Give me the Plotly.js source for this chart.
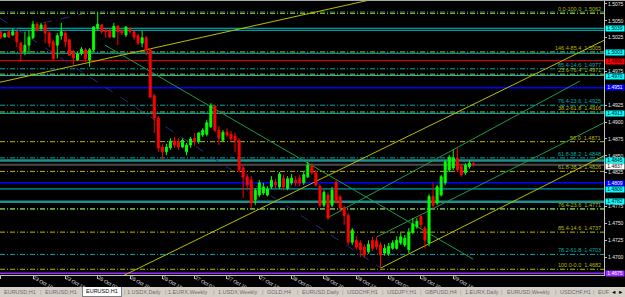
<!DOCTYPE html>
<html><head><meta charset="utf-8">
<script src="https://cdn.plot.ly/plotly-3.0.1.min.js"></script>
<style>
html,body{margin:0;padding:0;background:#000;overflow:hidden;width:625px;height:297px;}
#topline{position:absolute;left:0;top:0;width:625px;height:1px;background:#a8a8a8;}
#chart{position:absolute;left:0;top:0;width:625px;height:297px;}
#tabs{position:absolute;left:0;top:287px;width:625px;height:10px;background:#d4d0c8;font-family:"Liberation Sans",Arial,sans-serif;font-size:5.5px;color:#6a6a6a;}
#tabs span{position:absolute;top:2px;white-space:nowrap;line-height:6px;}
#tabs .sel{top:0px;height:10px;background:#fff;border:1px solid #808080;border-top:none;color:#000;line-height:9px;padding:0 3px;box-sizing:border-box;}
</style></head>
<body>
<div id="chart"></div>
<div id="topline"></div>
<div id="tabs"></div>
<script>
// ---- candle data (EURUSD H1) ----
const openP = [1.5034,1.5026,1.5034,1.5029,1.5034,1.5017,1.5004,1.5014,1.5025,1.5045,
1.5039,1.5044,1.5032,1.5019,1.5014,1.5028,1.5032,1.5022,1.5002,1.4992,
1.5002,1.5007,1.4992,1.5007,1.5039,1.5044,1.5036,1.5035,1.5026,1.5042,
1.5035,1.5029,1.5038,1.5034,1.5028,1.5017,1.5025,1.5007,1.4939,1.4906,
1.4863,1.4856,1.4862,1.4872,1.4871,1.4863,1.4856,1.4866,1.4876,1.4871,
1.4881,1.4882,1.4893,1.4924,1.4888,1.4873,1.4885,1.4882,1.4879,1.4873,
1.4832,1.4819,1.4814,1.4785,1.4792,1.4795,1.4792,1.4804,1.4811,1.4804,
1.4817,1.4802,1.4810,1.4814,1.4817,1.4810,1.4819,1.4835,1.4825,1.4805,
1.4777,1.4792,1.4777,1.4811,1.4789,1.4773,1.4762,1.4722,1.4725,1.4721,
1.4715,1.4708,1.4725,1.4724,1.4718,1.4706,1.4705,1.4713,1.4713,1.4721,
1.4718,1.4711,1.4737,1.4745,1.4760,1.4743,1.4721,1.4790,1.4780,1.4792,
1.4810,1.4829,1.4832,1.4847,1.4834,1.4825,1.4834,1.4839];
const highP = [1.5035,1.5032,1.5037,1.5038,1.5035,1.5019,1.5034,1.5036,1.5050,1.5048,
1.5047,1.5047,1.5036,1.5022,1.5032,1.5047,1.5036,1.5023,1.5007,1.5004,
1.5011,1.5010,1.5010,1.5042,1.5063,1.5045,1.5039,1.5038,1.5047,1.5044,
1.5038,1.5042,1.5041,1.5035,1.5031,1.5035,1.5028,1.5010,1.4942,1.4909,
1.4868,1.4868,1.4876,1.4878,1.4876,1.4876,1.4869,1.4878,1.4884,1.4885,
1.4891,1.4903,1.4928,1.4925,1.4894,1.4888,1.4891,1.4887,1.4884,1.4876,
1.4836,1.4823,1.4820,1.4802,1.4814,1.4810,1.4805,1.4820,1.4816,1.4826,
1.4822,1.4820,1.4823,1.4820,1.4822,1.4826,1.4841,1.4839,1.4829,1.4808,
1.4799,1.4796,1.4804,1.4814,1.4792,1.4776,1.4765,1.4743,1.4731,1.4725,
1.4719,1.4725,1.4730,1.4730,1.4722,1.4719,1.4721,1.4725,1.4731,1.4736,
1.4733,1.4743,1.4758,1.4758,1.4762,1.4746,1.4793,1.4810,1.4807,1.4822,
1.4844,1.4851,1.4859,1.4862,1.4839,1.4839,1.4844,1.4842];
const lowP = [1.5023,1.5026,1.5025,1.5028,1.5011,1.4989,1.4999,1.5002,1.5023,1.5034,
1.5036,1.5017,1.5011,1.4992,1.4994,1.5022,1.5011,1.4998,1.4985,1.4991,
1.4999,1.4989,1.4982,1.5004,1.5036,1.5031,1.5025,1.5025,1.5025,1.5014,
1.5029,1.5026,1.5031,1.5022,1.5014,1.5011,1.4999,1.4936,1.4884,1.4856,
1.4844,1.4851,1.4859,1.4862,1.4859,1.4862,1.4851,1.4862,1.4865,1.4868,
1.4878,1.4879,1.4891,1.4885,1.4866,1.4871,1.4878,1.4871,1.4856,1.4826,
1.4788,1.4799,1.4773,1.4777,1.4789,1.4792,1.4790,1.4801,1.4802,1.4801,
1.4799,1.4799,1.4807,1.4805,1.4805,1.4807,1.4817,1.4822,1.4804,1.4774,
1.4774,1.4755,1.4774,1.4779,1.4767,1.4748,1.4718,1.4718,1.4711,1.4700,
1.4699,1.4705,1.4709,1.4711,1.4684,1.4702,1.4702,1.4711,1.4711,1.4718,
1.4715,1.4706,1.4734,1.4742,1.4743,1.4713,1.4716,1.4773,1.4777,1.4790,
1.4807,1.4826,1.4829,1.4826,1.4819,1.4822,1.4831,1.4834];
const closeP = [1.5025,1.5031,1.5026,1.5034,1.5019,1.5004,1.5014,1.5026,1.5045,1.5036,
1.5044,1.5032,1.5017,1.4994,1.5028,1.5034,1.5019,1.4999,1.4995,1.5001,
1.5008,1.4994,1.5007,1.5041,1.5045,1.5034,1.5034,1.5026,1.5042,1.5034,
1.5032,1.5041,1.5034,1.5026,1.5017,1.5025,1.5007,1.4937,1.4906,1.4862,
1.4856,1.4863,1.4872,1.4866,1.4863,1.4873,1.4866,1.4875,1.4871,1.4884,
1.4888,1.4899,1.4924,1.4888,1.4876,1.4885,1.4881,1.4875,1.4873,1.4829,
1.4819,1.4807,1.4780,1.4799,1.4810,1.4804,1.4801,1.4814,1.4807,1.4823,
1.4804,1.4816,1.4817,1.4810,1.4810,1.4822,1.4836,1.4825,1.4807,1.4777,
1.4796,1.4758,1.4799,1.4782,1.4773,1.4762,1.4722,1.4740,1.4715,1.4711,
1.4703,1.4719,1.4713,1.4715,1.4703,1.4713,1.4716,1.4721,1.4725,1.4730,
1.4728,1.4737,1.4749,1.4753,1.4748,1.4725,1.4790,1.4777,1.4804,1.4819,
1.4841,1.4848,1.4847,1.4829,1.4822,1.4836,1.4839,1.4837];

// time axis (bar index -> label)
const tickIdx = [0,8,16,24,32,40,48,56,64,72,80,88,96,104,112];
const tickLabels = ['23 Oct 2009','23 Oct 10:00','23 Oct 18:00','26 Oct 02:00','26 Oct 10:00','26 Oct 18:00','27 Oct 02:00','27 Oct 10:00','27 Oct 18:00','28 Oct 02:00','28 Oct 10:00','28 Oct 18:00','29 Oct 02:00','29 Oct 10:00','29 Oct 18:00'];
// price scale labels that are not hidden behind price boxes
const priceTicks = [1.5075,1.5050,1.5025,1.4975,1.4925,1.4900,1.4875,1.4850,1.4825,1.4775,1.4750,1.4725,1.4700];

// solid horizontal lines (price)
const hLinePrice = [1.5039,1.5036,1.5002,1.4991,1.4969,1.4951,1.4913,1.4843,1.4837,1.4810,1.4801,1.4782,1.4676];
const hLineKind  = ['cyan','cyan','cyan','red','cyan','blue','cyan','teal','bid','blue','cyan','teal','purple'];

// fibonacci dash-dot levels
const fibPrice = [1.5063,1.5061,1.5004,1.4979,1.4971,1.4925,1.4915,1.4871,1.4847,1.4827,1.4772,1.4771,1.4737,1.4704,1.4682];
const fibKind  = ['t','y','y','t','y','t','y','y','t','y','t','y','y','t','y'];
const fibLabel = ['','0.0-100.0  1.5062','146.4-85.4  1.5005','85.4-14.6  1.4977','23.6-76.4  1.4971','76.4-23.6  1.4925','38.2-61.8  1.4916','50.0  1.4871','61.8-38.2  1.4848','61.8-38.2  1.4826','','76.4-23.6  1.4771','85.4-14.6  1.4737','78.2-61.8  1.4703','100.0-0.0  1.4682'];

// trend lines: start bar, start price, end bar, end price
const tlBar0   = [-0.2, 29.5, 94.1, 25.8, -0.2, 10.5, 80.8, 93.1];
const tlPrice0 = [1.4959,1.4670,1.4684,1.5014,1.5054,1.5047,1.4758,1.4730];
const tlBar1   = [91.4, 149.6, 149.6, 116.9, 94.1, 20.1, 143.4, 149.6];
const tlPrice1 = [1.5081,1.5022,1.4851,1.4697,1.4684,1.5060,1.4961,1.4900];
const tlKind   = ['yellow','yellow','yellow','green','navy','navy','green','green'];

// price boxes on the right scale
const boxPrice = [1.5039,1.5003,1.4990,1.4970,1.4951,1.4913,1.4845,1.4837,1.4809,1.4800,1.4782,1.4675];
const boxKind  = ['cyan','cyan','red','cyan','blue','cyan','cyan','white','blue','cyan','cyan','purple'];

// terminal tabs
const tabNames = ['EURUSD,H1','EURUSD,H1','EURUSD,H1','1.USDX,Daily','1.EURX,Weekly','1.USDX,Weekly','GOLD,H4','EURUSD,Daily','USDCHF,H1','USDJPY,H1','GBPUSD,H4','1.EURX,Daily','EURUSD,Weekly','USDCHF,H1','EUF'];

// ---- styles ----
const lineStyle = {
  cyan:{color:'#00c4cc',width:1}, red:{color:'#ff0000',width:1}, blue:{color:'#0000ff',width:1.5},
  teal:{color:'#1f8f8f',width:2.5}, bid:{color:'#4a4a4a',width:2}, purple:{color:'#9a2cff',width:1.5}
};
const fibColor = {t:'#00aaaa', y:'#b8b800'};
const tlStyle = {yellow:{color:'#bcbc00',width:1}, green:{color:'#1a9a4a',width:1}, navy:{color:'#2a2a80',width:1,dash:'dash'}};
const boxStyle = {cyan:['#00ffff','#000'], red:['#ff0000','#000'], blue:['#0000ff','#fff'], white:['#ffffff','#000'], purple:['#9a2cff','#fff']};
const boxShift = [0,0,0,-2,0,0,-1,-1.5,0,0,0,0];
const tabX = [4,45,82,127,168,218,267,302,347,387,425,465,507,560,598];
const sepX = [40,124,165,213,262,297,342,382,420,460,501,555,593];

const xs = openP.map((_, i) => i);
const trace = {
  type:'candlestick', x:xs, open:openP, high:highP, low:lowP, close:closeP,
  increasing:{line:{color:'#00ff00',width:1}, fillcolor:'#00ff00'},
  decreasing:{line:{color:'#ff0000',width:1}, fillcolor:'#ff0000'},
  whiskerwidth:0, hoverinfo:'skip'
};

const shapes = [];
hLinePrice.forEach((p,i)=>{
  const s = lineStyle[hLineKind[i]];
  shapes.push({type:'line', xref:'paper', x0:0, x1:1, yref:'y', y0:p, y1:p, layer:'below', line:{color:s.color, width:s.width}});
});
fibPrice.forEach((p,i)=>{
  shapes.push({type:'line', xref:'paper', x0:0, x1:1, yref:'y', y0:p, y1:p, layer:'below', line:{color:fibColor[fibKind[i]], width:1, dash:'5px,2px,1px,2px'}});
});
tlBar0.forEach((b,i)=>{
  const s = tlStyle[tlKind[i]];
  shapes.push({type:'line', xref:'x', yref:'y', x0:b, y0:tlPrice0[i], x1:tlBar1[i], y1:tlPrice1[i], layer:'below', line:{color:s.color, width:s.width, dash:s.dash||'solid'}});
});

const annotations = [];
fibLabel.forEach((t,i)=>{
  if(!t) return;
  annotations.push({xref:'paper', x:1, xanchor:'right', xshift:-1, yref:'y', y:fibPrice[i], yanchor:'bottom', yshift:-1,
    text:t.replace(/  /g,'\u00a0\u00a0'), showarrow:false, font:{size:5.5, color:fibColor[fibKind[i]]}});
});
boxPrice.forEach((p,i)=>{
  const st = boxStyle[boxKind[i]];
  annotations.push({xref:'paper', x:1, xanchor:'left', xshift:1, yref:'y', y:p, yanchor:'middle', yshift:boxShift[i],
    text:p.toFixed(4), showarrow:false, bgcolor:st[0], width:18, height:4.5, borderpad:0, font:{size:5, color:st[1]}});
});

const layout = {
  width:625, height:297, margin:{l:0, r:21, t:1, b:22},
  paper_bgcolor:'#000', plot_bgcolor:'#000', showlegend:false,
  font:{family:'"Liberation Sans", Arial, sans-serif', size:5, color:'#e8e8e8'},
  xaxis:{range:[-0.17,149.3], tickmode:'array', tickvals:tickIdx, ticktext:tickLabels,
    ticks:'outside', ticklen:3, tickcolor:'#c0c0c0', ticklabelposition:'outside right', ticklabelstandoff:-3,
    tickfont:{size:5, color:'#e8e8e8'}, showline:true, linecolor:'#c0c0c0', linewidth:1,
    showgrid:false, zeroline:false, rangeslider:{visible:false}, fixedrange:true},
  yaxis:{side:'right', range:[1.46735,1.50794], tickmode:'array', tickvals:priceTicks, tickformat:'.4f',
    ticks:'outside', ticklen:2, tickcolor:'#c0c0c0', showline:true, linecolor:'#c0c0c0', linewidth:1,
    showgrid:false, zeroline:false, tickfont:{size:5, color:'#e8e8e8'}, fixedrange:true},
  shapes:shapes, annotations:annotations
};

Plotly.newPlot('chart', [trace], layout, {staticPlot:true, displayModeBar:false});

// tabs
const tabs = document.getElementById('tabs');
tabNames.forEach((n,i)=>{
  const s = document.createElement('span');
  s.textContent = n;
  if(i===2){ s.className='sel'; }
  s.style.left = tabX[i]+'px';
  tabs.appendChild(s);
});
sepX.forEach(x=>{
  const s = document.createElement('span');
  s.textContent = '|'; s.style.left = x+'px'; s.style.color='#909090';
  tabs.appendChild(s);
});
const arr = document.createElement('span');
arr.textContent = '\u25C4 \u25BA'; arr.style.left='611px'; arr.style.color='#000';
tabs.appendChild(arr);
</script>
</body></html>
